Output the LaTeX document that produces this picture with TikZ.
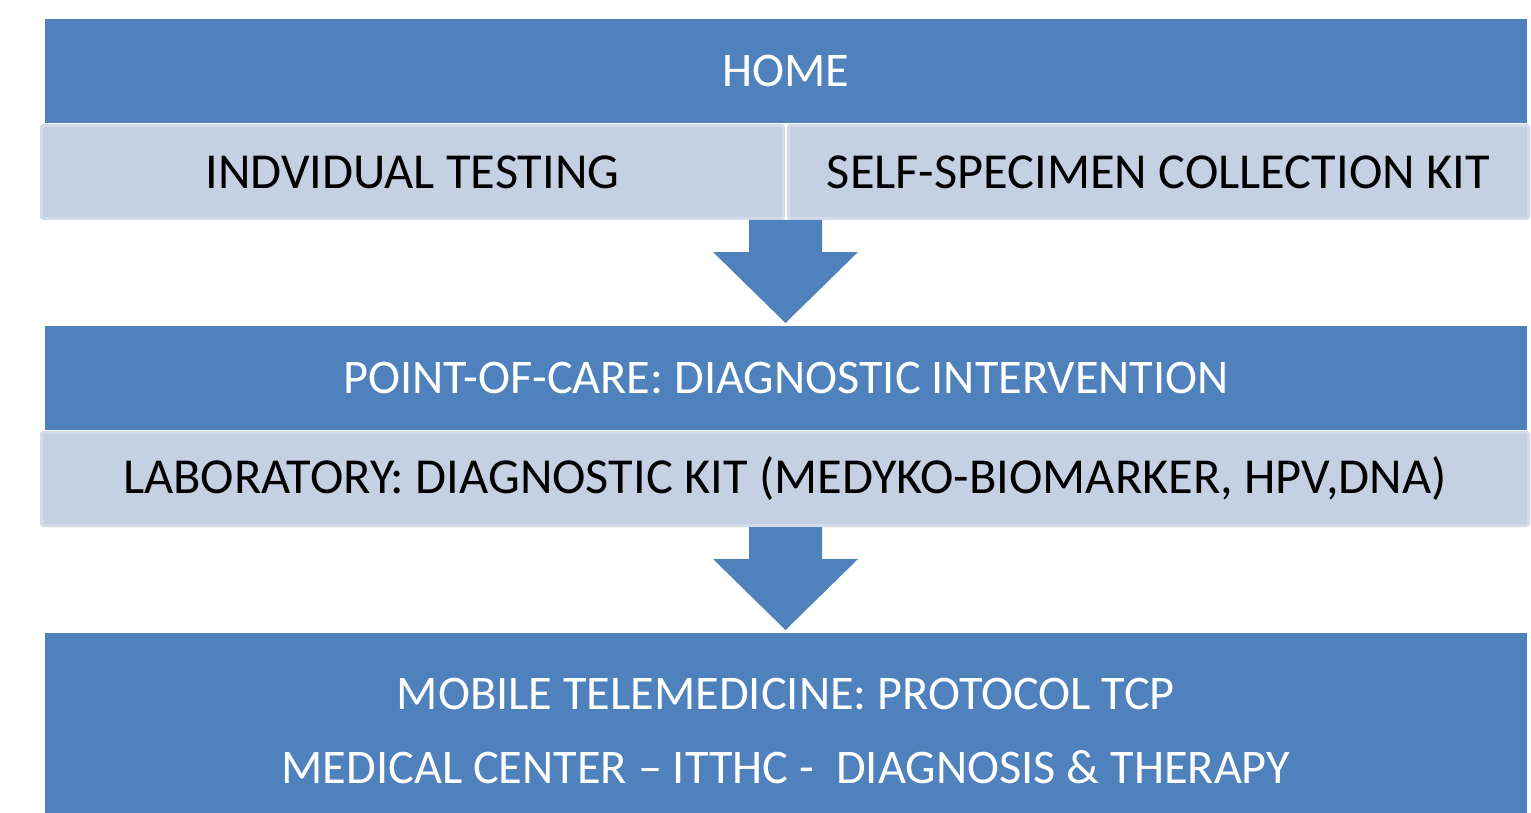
\documentclass[tikz,border=0pt]{standalone}
\usepackage{fontspec}
\setmainfont{Carlito}
\usetikzlibrary{calc}
\definecolor{mainblue}{HTML}{4F81BD}
\definecolor{lightfill}{HTML}{C5D0E3}
\definecolor{lightrim}{HTML}{D3DBEA}
\tikzset{
  bluefont/.style={font=\fontsize{48.3}{58}\selectfont},
  bluebox/.style={fill=mainblue, draw=none, inner sep=0pt, outer sep=0pt, text=white, bluefont},
  lightbox/.style={fill=lightfill, draw=lightrim, line width=3pt, rounded corners=2pt, inner sep=0pt, outer sep=0pt, text=black, font=\fontsize{50.4}{60}\selectfont},
  blockarrow/.style={fill=mainblue, draw=none}
}
\begin{document}
\begin{tikzpicture}[x=1pt,y=-1pt]
\useasboundingbox (0,0) rectangle (1531,813);
\clip (0,0) rectangle (1531,813);
\fill[white] (0,0) rectangle (1531,813);
% top group
\node[bluebox, minimum width=1482pt, minimum height=104pt] (home) at (786,71) {HOME};
\node[lightbox, minimum width=742pt, minimum height=93pt] (indiv) at (412.5,172) {INDVIDUAL TESTING};
\node[lightbox, minimum width=740pt, minimum height=93pt] (self) at (1158.5,172) {SELF-SPECIMEN COLLECTION KIT};
% middle group
\node[bluebox, minimum width=1482pt, minimum height=104pt] (poc) at (786,378) {POINT-OF-CARE: DIAGNOSTIC INTERVENTION};
\node[lightbox, minimum width=1487pt, minimum height=93pt] (lab) at (785,479) {LABORATORY: DIAGNOSTIC KIT (MEDYKO-BIOMARKER, HPV,DNA)};
% bottom group
\node[bluebox, minimum width=1482pt, minimum height=200pt] (mob) at (786,733) {};
\node[text=white, bluefont, inner sep=0pt] (mob1) at (786,694) {MOBILE TELEMEDICINE: PROTOCOL TCP};
\node[text=white, bluefont, inner sep=0pt] (mob2) at (786,767) {MEDICAL CENTER \textendash{} ITTHC -\ \ DIAGNOSIS \& THERAPY};
% arrows
\coordinate (a1) at (785.5,220);
\coordinate (a2) at (785.5,527);
\foreach \c/\d in {a1/323, a2/630}{
  \fill[blockarrow] ($(\c)+(-36.5,0)$) -- ++(0,32) -- ++(-36,0) -- (785.5,\d) -- ($(\c)+(72.5,32)$) -- ++(-36,0) -- ++(0,-32) -- cycle;
}
\end{tikzpicture}
\end{document}
